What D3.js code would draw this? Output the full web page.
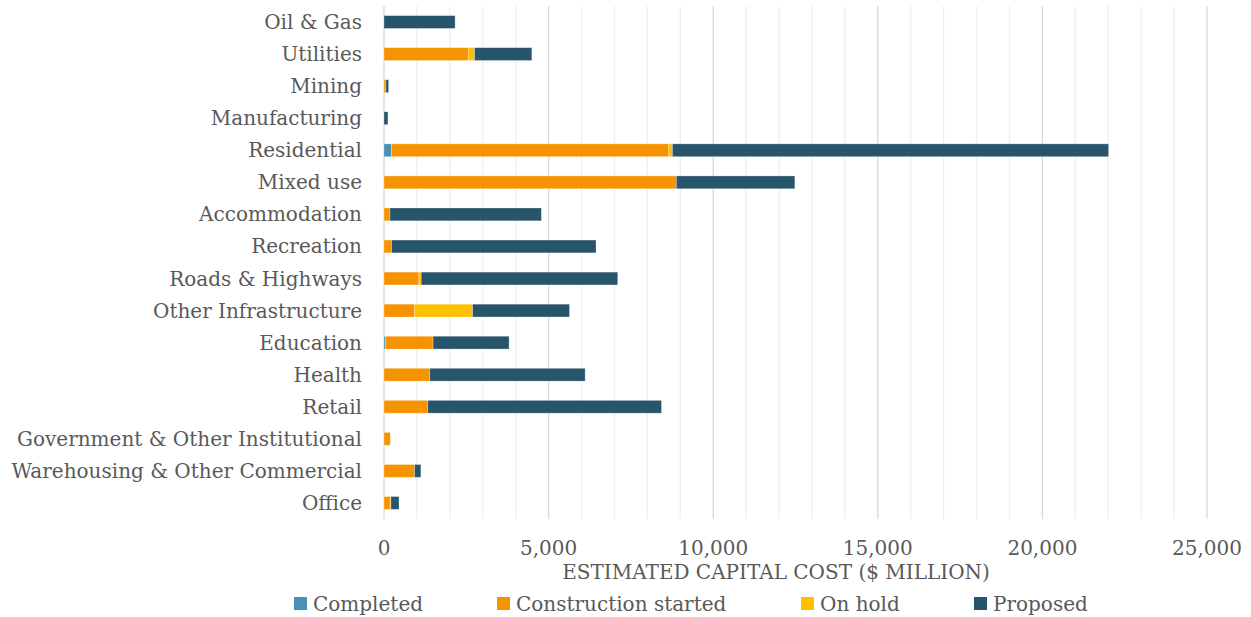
<!DOCTYPE html>
<html>
<head>
<meta charset="utf-8">
<script src="https://cdn.jsdelivr.net/npm/d3@7"></script>
<style>
  body { margin: 0; background: #fff; }
  text { font-family: "DejaVu Serif", serif; fill: #595959; }
</style>
</head>
<body>
<div id="chart"></div>
<script>
var categories = ["Oil & Gas", "Utilities", "Mining", "Manufacturing", "Residential", "Mixed use",
  "Accommodation", "Recreation", "Roads & Highways", "Other Infrastructure", "Education", "Health",
  "Retail", "Government & Other Institutional", "Warehousing & Other Commercial", "Office"];

var series_names = ["Completed", "Construction started", "On hold", "Proposed"];
var series_colors = ["#4890b8", "#f59300", "#ffc000", "#27556c"];

// $ million, one value per category, same order as categories
var completed    = [0,    0,    0,  0,   230,  0,    0,    0,    0,    0,    50,   0,    0,    0,   0,   0];
var construction = [0,    2560, 60, 0,   8420, 8880, 180,  230,  1060, 930,  1440, 1390, 1330, 190, 930, 190];
var on_hold      = [0,    190,  0,  0,   110,  0,    0,    0,    70,   1760, 0,    0,    0,    0,   0,   20];
var proposed     = [2160, 1740, 80, 120, 13250,3600, 4600, 6210, 5970, 2945, 2310, 4720, 7100, 0,   190, 245];

var x_ticks = [0, 5000, 10000, 15000, 20000, 25000];
var x_title = "ESTIMATED CAPITAL COST ($ MILLION)";

var width = 1251, height = 617;
var x0 = 384, x1 = 1207, y0 = 6, y1 = 519;
var fs = "20px";

var svg = d3.select("#chart").append("svg")
  .attr("width", width)
  .attr("height", height);

var x = d3.scaleLinear().domain([0, 25000]).range([x0, x1]);
var y = d3.scaleBand().domain(categories).range([y0, y1]).paddingInner(0.6).paddingOuter(0.3);

// gridlines, light every 1000, darker every 5000
var minor = d3.range(1000, 25001, 1000).filter(function(v){ return v % 5000 != 0; });
svg.append("g").selectAll("line").data(minor).enter().append("line")
  .attr("x1", function(d){ return x(d); }).attr("x2", function(d){ return x(d); })
  .attr("y1", y0).attr("y2", y1)
  .attr("stroke", "#efefef").attr("stroke-width", 1.3);
svg.append("g").selectAll("line").data(x_ticks).enter().append("line")
  .attr("x1", function(d){ return x(d); }).attr("x2", function(d){ return x(d); })
  .attr("y1", y0).attr("y2", y1)
  .attr("stroke", "#d9d9d9").attr("stroke-width", 1.3);

// stack
var rows = categories.map(function(c, i) {
  return { cat: c, s0: completed[i], s1: construction[i], s2: on_hold[i], s3: proposed[i] };
});
var stack = d3.stack().keys(["s0", "s1", "s2", "s3"])(rows);

svg.append("g").selectAll("g").data(stack).enter().append("g")
  .attr("fill", function(d, i){ return series_colors[i]; })
  .selectAll("rect").data(function(d){ return d; }).enter().append("rect")
  .filter(function(d){ return d[1] - d[0] > 0; })
  .attr("x", function(d){ return x(d[0]); })
  .attr("width", function(d){ return x(d[1]) - x(d[0]); })
  .attr("y", function(d){ return y(d.data.cat); })
  .attr("height", y.bandwidth())
  .attr("stroke", "#fff").attr("stroke-opacity", 0.35).attr("stroke-width", 0.8);

// category labels
svg.append("g").selectAll("text").data(categories).enter().append("text")
  .attr("x", x0 - 22)
  .attr("y", function(d){ return y(d) + y.bandwidth() / 2; })
  .attr("dy", "0.35em")
  .attr("text-anchor", "end")
  .style("font-size", fs)
  .text(function(d){ return d; });

// x tick labels
svg.append("g").selectAll("text").data(x_ticks).enter().append("text")
  .attr("x", function(d){ return x(d); })
  .attr("y", 555)
  .attr("text-anchor", "middle")
  .style("font-size", fs)
  .text(function(d){ return d3.format(",")(d); });

svg.append("text")
  .attr("x", 776).attr("y", 579)
  .attr("text-anchor", "middle")
  .style("font-size", fs)
  .text(x_title);

// legend
var legend_x = [294, 497, 801, 974];
var lg = svg.append("g").selectAll("g").data(series_names).enter().append("g")
  .attr("transform", function(d, i){ return "translate(" + legend_x[i] + ",597)"; });
lg.append("rect").attr("width", 13).attr("height", 13)
  .attr("fill", function(d, i){ return series_colors[i]; });
lg.append("text").attr("x", 19).attr("y", 14)
  .style("font-size", fs)
  .text(function(d){ return d; });
</script>
</body>
</html>
